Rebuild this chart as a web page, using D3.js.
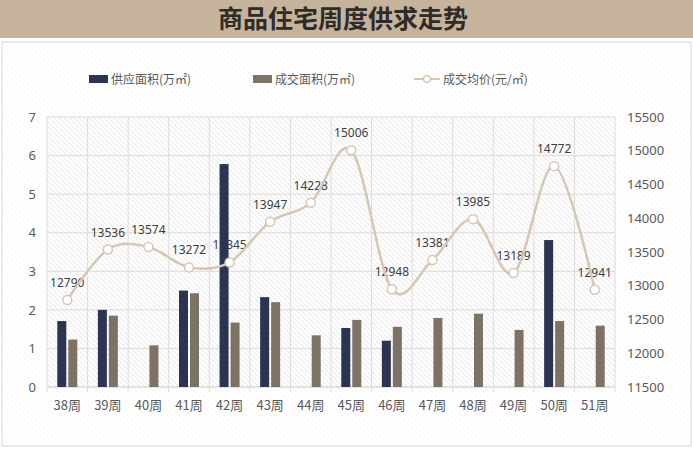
<!DOCTYPE html>
<html>
<head>
<meta charset="utf-8">
<script src="https://cdn.jsdelivr.net/npm/d3@7"></script>
<style>
  body { margin: 0; background: #fff; }
  text { font-family: "Noto Sans", "Noto Sans CJK SC", sans-serif; }
</style>
</head>
<body>
<div id="root"></div>
<script>
// Set the size of the chart
const width = 693;
const height = 450;
const margin = { top: 117, right: 78, bottom: 63, left: 47 };

// Chart data
const weeks = ["38周", "39周", "40周", "41周", "42周", "43周", "44周", "45周", "46周", "47周", "48周", "49周", "50周", "51周"];
const supply = [1.71, 2.0, 0, 2.5, 5.78, 2.33, 0, 1.53, 1.2, 0, 0, 0, 3.81, 0];
const deal = [1.23, 1.85, 1.08, 2.43, 1.67, 2.2, 1.34, 1.74, 1.56, 1.79, 1.9, 1.48, 1.71, 1.59];
const price = [12790, 13536, 13574, 13272, 13345, 13947, 14228, 15006, 12948, 13381, 13985, 13189, 14772, 12941];
const leftTicks = [0, 1, 2, 3, 4, 5, 6, 7];
const rightTicks = [11500, 12000, 12500, 13000, 13500, 14000, 14500, 15000, 15500];

const blue = "#2b3551";
const gray = "#7d7263";
const tan = "#d6c7b4";

const svg = d3
  .select("#root")
  .append("svg")
  .attr("width", width)
  .attr("height", height);

// hatch patterns
const defs = svg.append("defs");

function makeHatch(id, size, color) {
  const pat = defs
    .append("pattern")
    .attr("id", id)
    .attr("patternUnits", "userSpaceOnUse")
    .attr("width", size)
    .attr("height", size)
    .attr("patternTransform", "rotate(-45)");
  pat.append("rect").attr("width", size).attr("height", size).attr("fill", "#ffffff");
  pat
    .append("line")
    .attr("x1", 0)
    .attr("y1", 0)
    .attr("x2", 0)
    .attr("y2", size)
    .attr("stroke", color)
    .attr("stroke-width", 1);
}
makeHatch("hatch", 3.5, "#d8d8d8");
makeHatch("hatchLight", 4, "#f0f0f0");

// background + frame
svg
  .append("rect")
  .attr("x", 2)
  .attr("y", 42)
  .attr("width", width - 4)
  .attr("height", 404)
  .attr("fill", "url(#hatchLight)")
  .attr("stroke", "#dfe5ea")
  .attr("stroke-width", 1.5);

// title banner
svg
  .append("rect")
  .attr("x", 0)
  .attr("y", 0)
  .attr("width", width)
  .attr("height", 38)
  .attr("fill", "#c6b39c");

svg
  .append("text")
  .attr("x", 343)
  .attr("y", 28)
  .attr("text-anchor", "middle")
  .attr("font-size", 25)
  .attr("font-weight", "bold")
  .attr("fill", "#2f2b28")
  .style("font-family", "'Noto Sans CJK SC', sans-serif")
  .text("商品住宅周度供求走势");

// Scales
const x = d3
  .scaleBand()
  .domain(weeks)
  .range([margin.left, width - margin.right]);

const yLeft = d3
  .scaleLinear()
  .domain([0, 7])
  .range([height - margin.bottom, margin.top]);

const yRight = d3
  .scaleLinear()
  .domain([11500, 15500])
  .range([height - margin.bottom, margin.top]);

// plot area
svg
  .append("rect")
  .attr("x", margin.left)
  .attr("y", margin.top)
  .attr("width", width - margin.left - margin.right)
  .attr("height", height - margin.top - margin.bottom)
  .attr("fill", "url(#hatch)");

// grid lines
svg
  .append("g")
  .selectAll("line")
  .data(leftTicks)
  .enter()
  .append("line")
  .attr("x1", margin.left)
  .attr("x2", width - margin.right)
  .attr("y1", d => yLeft(d))
  .attr("y2", d => yLeft(d))
  .attr("stroke", d => (d === 0 ? "#c8c8c8" : "#dcdcdc"))
  .attr("stroke-width", 1);

svg
  .append("g")
  .selectAll("line")
  .data(d3.range(weeks.length + 1))
  .enter()
  .append("line")
  .attr("x1", i => margin.left + i * x.step())
  .attr("x2", i => margin.left + i * x.step())
  .attr("y1", margin.top)
  .attr("y2", height - margin.bottom + 5)
  .attr("stroke", "#dcdcdc")
  .attr("stroke-width", 1);

// axes
const leftAxis = svg
  .append("g")
  .attr("transform", "translate(" + (margin.left - 6) + ",0)")
  .call(d3.axisLeft(yLeft).tickValues(leftTicks).tickFormat(d3.format("d")).tickSize(0).tickPadding(5));
leftAxis.select(".domain").remove();
leftAxis.selectAll("text").attr("font-size", 13).attr("fill", "#595959");

const rightAxis = svg
  .append("g")
  .attr("transform", "translate(" + (width - margin.right + 8) + ",0)")
  .call(d3.axisRight(yRight).tickValues(rightTicks).tickFormat(d3.format("d")).tickSize(0).tickPadding(4));
rightAxis.select(".domain").remove();
rightAxis.selectAll("text").attr("font-size", 13).attr("fill", "#595959");

const bottomAxis = svg
  .append("g")
  .attr("transform", "translate(0," + (height - margin.bottom) + ")")
  .call(d3.axisBottom(x).tickSize(0).tickPadding(14));
bottomAxis.select(".domain").remove();
bottomAxis
  .selectAll("text")
  .attr("font-size", 13)
  .attr("fill", "#595959")
  .style("font-family", "'Noto Sans CJK SC', sans-serif");

// price labels (drawn under bars, as in the original)
svg
  .append("g")
  .selectAll("text")
  .data(price)
  .enter()
  .append("text")
  .attr("x", (d, i) => x(weeks[i]) + x.bandwidth() / 2)
  .attr("y", d => yRight(d) - 13)
  .attr("text-anchor", "middle")
  .attr("font-size", 12)
  .attr("fill", "#404040")
  .text(d => d);

// bars
const barW = 9;

svg
  .append("g")
  .selectAll("rect")
  .data(weeks)
  .enter()
  .append("rect")
  .attr("x", d => x(d) + x.bandwidth() / 2 - barW - 1)
  .attr("y", (d, i) => yLeft(supply[i]))
  .attr("width", barW)
  .attr("height", (d, i) => yLeft(0) - yLeft(supply[i]))
  .attr("fill", blue);

svg
  .append("g")
  .selectAll("rect")
  .data(weeks)
  .enter()
  .append("rect")
  .attr("x", d => x(d) + x.bandwidth() / 2 + 1)
  .attr("y", (d, i) => yLeft(deal[i]))
  .attr("width", barW)
  .attr("height", (d, i) => yLeft(0) - yLeft(deal[i]))
  .attr("fill", gray);

// price line
const line = d3
  .line()
  .x((d, i) => x(weeks[i]) + x.bandwidth() / 2)
  .y(d => yRight(d))
  .curve(d3.curveCatmullRom.alpha(0));

svg
  .append("path")
  .datum(price)
  .attr("fill", "none")
  .attr("stroke", tan)
  .attr("stroke-width", 2.5)
  .attr("d", line);

svg
  .append("g")
  .selectAll("circle")
  .data(price)
  .enter()
  .append("circle")
  .attr("cx", (d, i) => x(weeks[i]) + x.bandwidth() / 2)
  .attr("cy", d => yRight(d))
  .attr("r", 4.5)
  .attr("fill", "#fff")
  .attr("stroke", tan)
  .attr("stroke-width", 1.5);

// legend
const legend = svg.append("g").attr("font-size", 12);
legend.append("rect").attr("x", 89).attr("y", 75).attr("width", 19).attr("height", 8).attr("fill", blue);
legend.append("text").attr("x", 111).attr("y", 84).attr("fill", "#595959").text("供应面积(万㎡)");
legend.append("rect").attr("x", 253).attr("y", 75).attr("width", 19).attr("height", 8).attr("fill", gray);
legend.append("text").attr("x", 275).attr("y", 84).attr("fill", "#595959").text("成交面积(万㎡)");
legend.append("line").attr("x1", 414).attr("x2", 440).attr("y1", 79).attr("y2", 79).attr("stroke", tan).attr("stroke-width", 2);
legend.append("circle").attr("cx", 427).attr("cy", 79).attr("r", 3.5).attr("fill", "#fff").attr("stroke", tan).attr("stroke-width", 1.5);
legend.append("text").attr("x", 443).attr("y", 84).attr("fill", "#595959").text("成交均价(元/㎡)");
legend.selectAll("text").style("font-family", "'Noto Sans CJK SC', sans-serif");
</script>
</body>
</html>
